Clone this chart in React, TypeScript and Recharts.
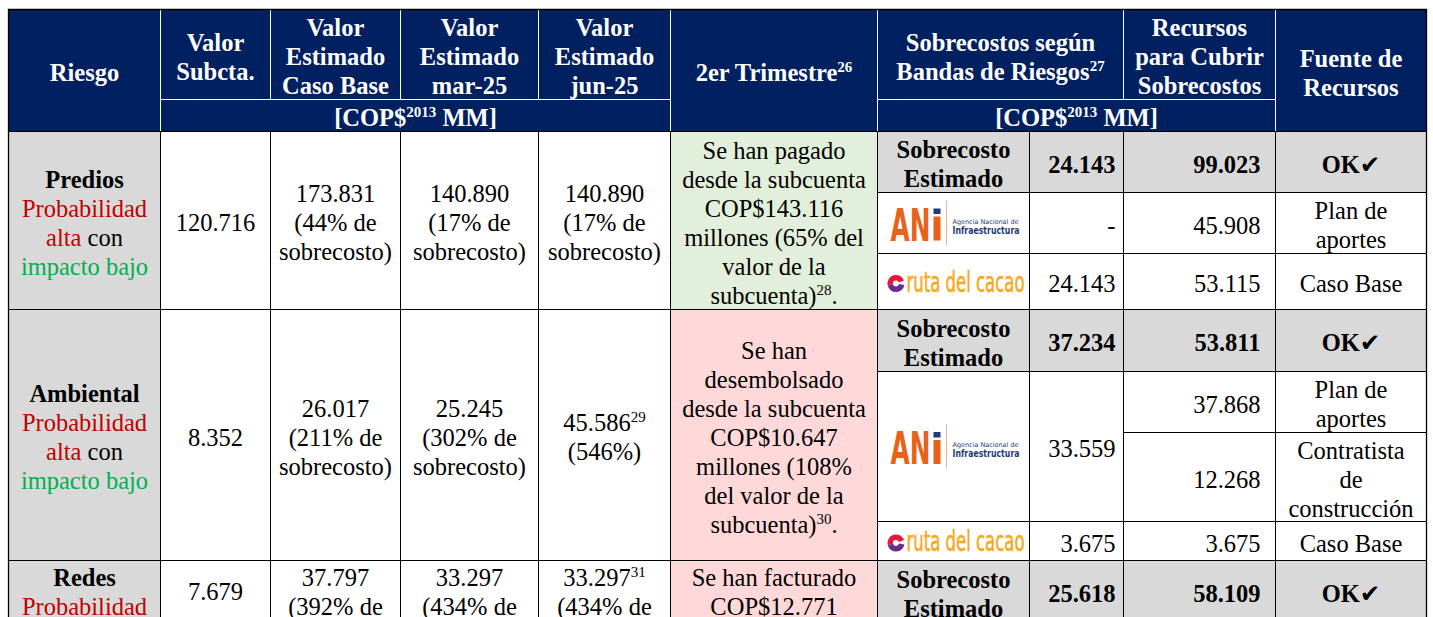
import React from 'react';
import { ComposedChart, XAxis, YAxis, ReferenceArea } from 'recharts';

// ---- table content ----
const headerTitles = [
  'Riesgo',
  'Valor\nSubcta.',
  'Valor\nEstimado\nCaso Base',
  'Valor\nEstimado\nmar-25',
  'Valor\nEstimado\njun-25',
  '2er Trimestre^{26}',
  'Sobrecostos según\nBandas de Riesgos^{27}',
  'Recursos\npara Cubrir\nSobrecostos',
  'Fuente de\nRecursos',
];
const unitLabel = '[COP$^{2013} MM]';

const riskNames = ['Predios', 'Ambiental', 'Redes'];
const riskProbability = ['alta', 'alta', 'alta'];
const riskImpact = ['bajo', 'bajo', 'bajo'];

const subAccountValues = ['120.716', '8.352', '7.679'];
const baseCaseValues = ['173.831', '26.017', '37.797'];
const baseCaseOvercost = ['44%', '211%', '392%'];
const mar25Values = ['140.890', '25.245', '33.297'];
const mar25Overcost = ['17%', '302%', '434%'];
const jun25Notes = [
  '140.890\n(17% de\nsobrecosto)',
  '45.586^{29}\n(546%)',
  '33.297^{31}\n(434% de\nsobrecosto)',
];
const quarterNotes = [
  'Se han pagado\ndesde la subcuenta\nCOP$143.116\nmillones (65% del\nvalor de la\nsubcuenta)^{28}.',
  'Se han\ndesembolsado\ndesde la subcuenta\nCOP$10.647\nmillones (108%\ndel valor de la\nsubcuenta)^{30}.',
  'Se han facturado\nCOP$12.771',
];

const estimatedLabel = 'Sobrecosto\nEstimado';
const estimatedOvercost = ['24.143', '37.234', '25.618'];
const coverResources = ['99.023', '53.811', '58.109'];
const coverStatus = ['OK', 'OK', 'OK'];

const aniOvercost = ['-', '33.559'];
const aniResources = [['45.908'], ['37.868', '12.268']];
const aniSources = [['Plan de\naportes'], ['Plan de\naportes', 'Contratista\nde\nconstrucción']];

const rutaOvercost = ['24.143', '3.675'];
const rutaResources = ['53.115', '3.675'];
const rutaSources = ['Caso Base', 'Caso Base'];

// ---- layout ----
const W = 1433;
const H = 617;
const FONT = '"Liberation Serif", "Times New Roman", serif';
const FS = 24.5;
const LINE_H = 29;
const BASE_SHIFT = 10.5;
const SUP_FS = 15;
const SUP_RISE = 9;

const NAVY = '#002060';
const GRAY = '#D9D9D9';
const GREEN_BG = '#E2EFDA';
const PINK_BG = '#FFD9D9';
const RED = '#C00000';
const GREEN = '#00B050';
const BLACK = '#000';

const COLS = [8, 160, 270, 400, 538, 670, 877, 1029, 1123, 1275, 1426];
const HEAD = [9, 99, 131];
const ROWS: any[] = [
  { top: 131, s1: 192, s2: 253, bottom: 309 },
  { top: 309, s1: 371, s2: 521, bottom: 560, split: 432 },
  { top: 560, s1: 622, bottom: 690, base: { risk: 586, sub: 600, col: 586 } },
];

type Seg = { t: string; sup?: boolean; c?: string; b?: boolean; f?: string };
type Cell = {
  x1: number; x2: number; y1: number; y2: number;
  fill: string; stroke: string;
  lines?: Seg[][];
  align?: 'middle' | 'end';
  pad?: number;
  bold?: boolean;
  color?: string;
  firstY?: number;
  logo?: 'ani' | 'ruta';
};

const segs = (s: string): Seg[] =>
  s.split(/\^\{([^}]*)\}/).map((t, i) => ({ t, sup: i % 2 === 1 })).filter((g) => g.t !== '');
const toLines = (s: string): Seg[][] => s.split('\n').map(segs);

const riskLines = (r: number): Seg[][] => [
  [{ t: riskNames[r], b: true }],
  [{ t: 'Probabilidad', c: RED }],
  [{ t: riskProbability[r], c: RED }, { t: ' con' }],
  [{ t: `impacto ${riskImpact[r]}`, c: GREEN }],
];

const cells: Cell[] = [];

// header
const headerSpans = [
  [0, 1, 0, 2], [1, 2, 0, 1], [2, 3, 0, 1], [3, 4, 0, 1], [4, 5, 0, 1],
  [5, 6, 0, 2], [6, 8, 0, 1], [8, 9, 0, 1], [9, 10, 0, 2],
];
headerTitles.forEach((t, i) => {
  const [a, b, r1, r2] = headerSpans[i];
  cells.push({ x1: COLS[a], x2: COLS[b], y1: HEAD[r1], y2: HEAD[r2], fill: NAVY, stroke: '#fff', lines: toLines(t), bold: true, color: '#fff' });
});
[[1, 5], [6, 9]].forEach(([a, b]) => {
  cells.push({ x1: COLS[a], x2: COLS[b], y1: HEAD[1], y2: HEAD[2], fill: NAVY, stroke: '#fff', lines: toLines(unitLabel), bold: true, color: '#fff' });
});

// body
ROWS.forEach((row, r) => {
  const { top, bottom, s1, s2, split, base } = row;
  const body = (a: number, lines: Seg[][], fill: string, firstY?: number) =>
    cells.push({ x1: COLS[a], x2: COLS[a + 1], y1: top, y2: bottom, fill, stroke: BLACK, lines, firstY });

  body(0, riskLines(r), GRAY, base?.risk);
  body(1, toLines(subAccountValues[r]), '#fff', base?.sub);
  body(2, toLines(`${baseCaseValues[r]}\n(${baseCaseOvercost[r]} de\nsobrecosto)`), '#fff', base?.col);
  body(3, toLines(`${mar25Values[r]}\n(${mar25Overcost[r]} de\nsobrecosto)`), '#fff', base?.col);
  body(4, toLines(jun25Notes[r]), '#fff', base?.col);
  body(5, toLines(quarterNotes[r]), r === 0 ? GREEN_BG : PINK_BG, base?.col);

  const est = (a: number, lines: Seg[][], extra: Partial<Cell> = {}) =>
    cells.push({ x1: COLS[a], x2: COLS[a + 1], y1: top, y2: s1, fill: GRAY, stroke: BLACK, lines, bold: true, ...extra });
  est(6, toLines(estimatedLabel));
  est(7, toLines(estimatedOvercost[r]), { align: 'end', pad: 8 });
  est(8, toLines(coverResources[r]), { align: 'end', pad: 15 });
  est(9, [[{ t: coverStatus[r] }, { t: '\u2714', f: '"DejaVu Sans", sans-serif' }]]);

  if (r > 1) return;
  const plain = (a: number, y1: number, y2: number, text: string, extra: Partial<Cell> = {}) =>
    cells.push({ x1: COLS[a], x2: COLS[a + 1], y1, y2, fill: '#fff', stroke: BLACK, lines: toLines(text), ...extra });

  // ANI block
  cells.push({ x1: COLS[6], x2: COLS[7], y1: s1, y2: s2, fill: '#fff', stroke: BLACK, logo: 'ani' });
  plain(7, s1, s2, aniOvercost[r], { align: 'end', pad: 8 });
  const bounds = aniResources[r].length > 1 ? [s1, split, s2] : [s1, s2];
  aniResources[r].forEach((v, k) => {
    plain(8, bounds[k], bounds[k + 1], v, { align: 'end', pad: 15 });
    plain(9, bounds[k], bounds[k + 1], aniSources[r][k]);
  });

  // ruta del cacao block
  cells.push({ x1: COLS[6], x2: COLS[7], y1: s2, y2: bottom, fill: '#fff', stroke: BLACK, logo: 'ruta' });
  plain(7, s2, bottom, rutaOvercost[r], { align: 'end', pad: 8 });
  plain(8, s2, bottom, rutaResources[r], { align: 'end', pad: 15 });
  plain(9, s2, bottom, rutaSources[r]);
});

function CellText({ viewBox, cell }: any) {
  const { x, y, width, height } = viewBox;
  const lines: Seg[][] = cell.lines;
  const n = lines.length;
  const anchor = cell.align ?? 'middle';
  const tx = anchor === 'end' ? x + width - (cell.pad ?? 8) : x + width / 2;
  const first = cell.firstY ?? y + height / 2 + BASE_SHIFT - ((n - 1) / 2) * LINE_H;
  return (
    <text
      textAnchor={anchor}
      fontFamily={FONT}
      fontSize={FS}
      fill={cell.color ?? BLACK}
      fontWeight={cell.bold ? 700 : 400}
      style={{ whiteSpace: 'pre' }}
    >
      {lines.map((line, i) => {
        let up = false;
        return (
          <tspan key={i} x={tx} y={first + i * LINE_H}>
            {line.map((g, j) => {
              let dy: number | undefined;
              if (g.sup && !up) { dy = -SUP_RISE; up = true; }
              else if (!g.sup && up) { dy = SUP_RISE; up = false; }
              return (
                <tspan key={j} dy={dy} fontSize={g.sup ? SUP_FS : undefined} fill={g.c}
                  fontWeight={g.b ? 700 : undefined} fontFamily={g.f}>
                  {g.t}
                </tspan>
              );
            })}
          </tspan>
        );
      })}
    </text>
  );
}

const ANI_ORANGE = '#E8621A';
const ANI_BLUE = '#1F3A7A';
const RUTA_ORANGE = '#F7A81B';

function AniLogo({ viewBox }: any) {
  const { x, y, height } = viewBox;
  const cy = y + height / 2 + 1.5;
  const top = cy - 16;
  const bot = cy + 16;
  const lx = x + 13;
  return (
    <g>
      <text x={lx} y={bot} fontFamily='"DejaVu Sans", sans-serif' fontWeight={700} fontSize={44}
        fill={ANI_ORANGE} textLength={40} lengthAdjust="spacingAndGlyphs">AN</text>
      <rect x={lx + 43} y={cy - 8} width={7} height={24} fill={ANI_ORANGE} />
      <rect x={lx + 43} y={top} width={7} height={5.5} fill={ANI_BLUE} />
      <line x1={lx + 56} x2={lx + 56} y1={top - 8} y2={bot + 5} stroke="#F2B48C" strokeWidth={1} />
      <text x={lx + 62} y={cy - 1} fontFamily='"DejaVu Sans", sans-serif' fontSize={6.5}
        fill={ANI_BLUE} textLength={66} lengthAdjust="spacingAndGlyphs">Agencia Nacional de</text>
      <text x={lx + 62} y={cy + 9} fontFamily='"DejaVu Sans", sans-serif' fontWeight={700} fontSize={10.5}
        fill={ANI_BLUE} textLength={67} lengthAdjust="spacingAndGlyphs">Infraestructura</text>
    </g>
  );
}

function RutaLogo({ viewBox }: any) {
  const { x, y, height } = viewBox;
  const base = y + height / 2 + 10;
  const cx = x + 18.5;
  const cy = base - 8;
  const r = 5.8;
  const p = (deg: number) => {
    const a = (deg * Math.PI) / 180;
    return `${cx + r * Math.cos(a)} ${cy - r * Math.sin(a)}`;
  };
  return (
    <g>
      <path d={`M ${p(20)} A ${r} ${r} 0 0 0 ${p(195)}`} stroke="#E5173F" strokeWidth={5.5} fill="none" />
      <path d={`M ${p(195)} A ${r} ${r} 0 0 0 ${p(350)}`} stroke="#6A2C8E" strokeWidth={5.5} fill="none" />
      <text x={x + 29} y={base} fontFamily='"DejaVu Sans Condensed", "DejaVu Sans", sans-serif' fontSize={28}
        fill={RUTA_ORANGE} stroke={RUTA_ORANGE} strokeWidth={0.5}
        textLength={118} lengthAdjust="spacingAndGlyphs">ruta del cacao</text>
    </g>
  );
}

function renderLabel(c: Cell) {
  if (c.logo === 'ani') return (p: any) => <AniLogo viewBox={p.viewBox} />;
  if (c.logo === 'ruta') return (p: any) => <RutaLogo viewBox={p.viewBox} />;
  return (p: any) => <CellText viewBox={p.viewBox} cell={c} />;
}

export default function App() {
  return (
    <div style={{ position: 'fixed', left: 0, top: 0, width: W, height: H, background: '#fff', overflow: 'hidden' }}>
      <ComposedChart width={W} height={H} margin={{ top: 0, right: 0, bottom: 0, left: 0 }}>
        <XAxis type="number" dataKey="x" domain={[0, W]} allowDataOverflow hide />
        <YAxis type="number" dataKey="y" domain={[0, H]} allowDataOverflow reversed hide />
        {cells.map((c, i) => (
          <ReferenceArea
            key={i}
            x1={c.x1 + 0.5}
            x2={c.x2 + 0.5}
            y1={c.y1 + 0.5}
            y2={c.y2 + 0.5}
            fill={c.fill}
            fillOpacity={1}
            stroke={c.stroke}
            strokeWidth={1}
            ifOverflow="visible"
            label={renderLabel(c)}
          />
        ))}
        <ReferenceArea
          x1={COLS[0] + 0.5}
          x2={COLS[COLS.length - 1] + 0.5}
          y1={HEAD[0] + 0.5}
          y2={700}
          fill="none"
          stroke={BLACK}
          strokeWidth={1.3}
          ifOverflow="visible"
        />
      </ComposedChart>
    </div>
  );
}
